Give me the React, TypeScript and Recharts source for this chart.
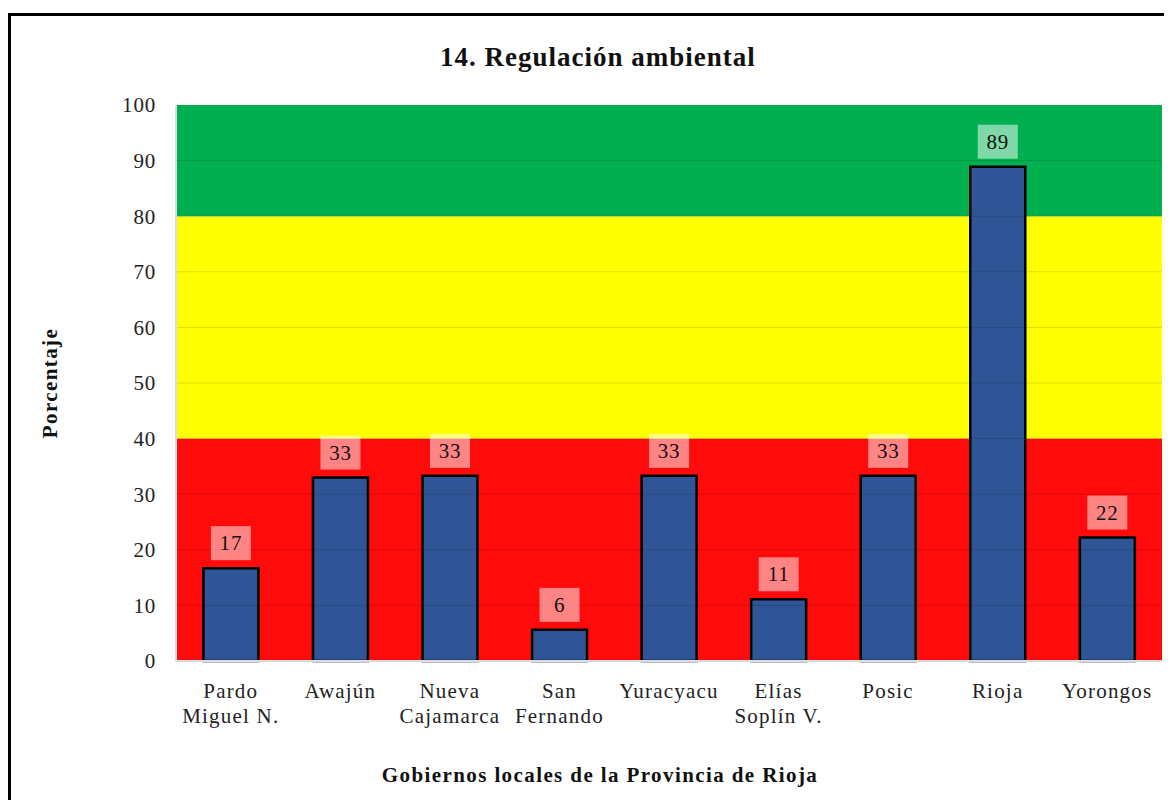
import React from 'react';
import { BarChart, Bar, XAxis, YAxis, ReferenceArea, ReferenceLine, LabelList } from 'recharts';

const GOBIERNOS = ['Pardo\nMiguel N.', 'Awajún', 'Nueva\nCajamarca', 'San\nFernando', 'Yuracyacu', 'Elías\nSoplín V.', 'Posic', 'Rioja', 'Yorongos'];
const PORCENTAJES = [16.7, 33.0, 33.3, 5.6, 33.3, 11.1, 33.3, 88.9, 22.2];
const Y_TICKS = [0, 10, 20, 30, 40, 50, 60, 70, 80, 90, 100];
const GRID_LINES = [10, 20, 30, 40, 50, 60, 70, 80, 90];
const BANDS = [
    { from: 0, to: 40, color: '#FF0B0B' },
    { from: 40, to: 80, color: '#FFFF00' },
    { from: 80, to: 100, color: '#00B050' },
];

const FONT = '"Liberation Serif", "Times New Roman", serif';
const BAR_COLOR = '#2F5597';
const AXIS_COLOR = '#D9DDE3';

const data = GOBIERNOS.map((name, i) => ({ name, valor: PORCENTAJES[i] }));

// two-line category labels under the axis
const CategoryTick = (props: any) => {
    const { x, y, payload } = props;
    const lines = String(payload.value).split('\n');
    return (
        <text x={x} y={y} textAnchor="middle" fontFamily={FONT} fontSize={21} fill="#222" letterSpacing={1.2}>
            {lines.map((line, i) => (
                <tspan key={i} x={x} y={y + 37 + i * 25}>{line}</tspan>
            ))}
        </text>
    );
};

const ValueLabel = (props: any) => {
    const { x, y, width, value } = props;
    const cx = x + width / 2;
    const bottom = y - 8;
    return (
        <g>
            <rect x={cx - 20} y={bottom - 34} width={40} height={34} fill="rgba(255,255,255,0.5)" />
            <text x={cx} y={bottom - 10} textAnchor="middle" fontFamily={FONT} fontSize={21} fill="#111" letterSpacing={0.8}>
                {Math.round(value)}
            </text>
        </g>
    );
};

export default function App() {
    return (
        <div style={{ position: 'relative', width: 1164, height: 792, overflow: 'hidden', background: '#fff', fontFamily: FONT }}>
            <div style={{ position: 'absolute', left: 0, top: 5, width: 1200, height: 900, border: '3px solid #000', boxSizing: 'border-box' }} />
            <div style={{ position: 'absolute', left: 0, top: 33, width: 1180, textAlign: 'center', fontSize: 27, fontWeight: 'bold', lineHeight: '32px', color: '#111', letterSpacing: 1 }}>
                14. Regulación ambiental
            </div>
            <div style={{ position: 'absolute', left: 42, top: 375, transform: 'translate(-50%, -50%) rotate(-90deg)', fontSize: 21, fontWeight: 'bold', whiteSpace: 'nowrap', color: '#111', letterSpacing: 1.4 }}>
                Porcentaje
            </div>
            <div style={{ position: 'absolute', left: 0, top: 754, width: 1184, textAlign: 'center', fontSize: 21, fontWeight: 'bold', lineHeight: '26px', color: '#111', letterSpacing: 1.4 }}>
                Gobiernos locales de la Provincia de Rioja
            </div>
            <div style={{ position: 'absolute', left: 0, top: 0 }}>
                <BarChart width={1164} height={792} data={data} margin={{ top: 97, right: 10, bottom: 79, left: 108 }} barCategoryGap="25%">
                    {BANDS.map(b => (
                        <ReferenceArea key={b.from} y1={b.from} y2={b.to} fill={b.color} fillOpacity={1} stroke="none" />
                    ))}
                    {GRID_LINES.map(v => (
                        <ReferenceLine key={v} y={v} stroke="rgba(0,0,0,0.13)" strokeWidth={1} />
                    ))}
                    <XAxis dataKey="name" interval={0} tickLine={false} tickSize={0} tickMargin={0} height={60}
                        axisLine={{ stroke: AXIS_COLOR, strokeWidth: 2 }} tick={<CategoryTick />} />
                    <YAxis domain={[0, 100]} ticks={Y_TICKS} interval={0} width={60} tickLine={false} tickSize={0} tickMargin={20}
                        axisLine={{ stroke: AXIS_COLOR, strokeWidth: 2 }}
                        tick={{ fontFamily: FONT, fontSize: 21, fill: '#222', letterSpacing: 0.8 }} />
                    <Bar dataKey="valor" fill={BAR_COLOR} stroke="#000" strokeWidth={2.5} isAnimationActive={false}>
                        <LabelList dataKey="valor" content={<ValueLabel />} />
                    </Bar>
                </BarChart>
            </div>
        </div>
    );
}
